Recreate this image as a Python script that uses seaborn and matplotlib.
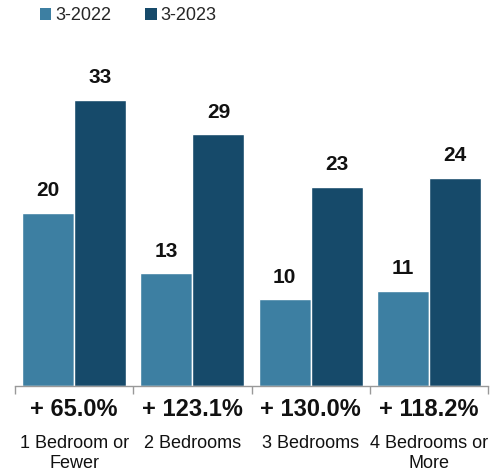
import matplotlib
matplotlib.use("Agg")
import matplotlib.pyplot as plt
from matplotlib.patches import Patch
from matplotlib.ticker import FixedLocator, NullFormatter
import seaborn as sns
import pandas as pd

categories = ["1 Bedroom or\nFewer", "2 Bedrooms", "3 Bedrooms", "4 Bedrooms or\nMore"]
series = ["3-2022", "3-2023"]
values_2022 = [20, 13, 10, 11]
values_2023 = [33, 29, 23, 24]
colors = ["#3d7fa2", "#164a6a"]

df = pd.DataFrame({
    "category": categories * 2,
    "period": [series[0]] * 4 + [series[1]] * 4,
    "value": values_2022 + values_2023,
})

sns.set_theme(style="white")
plt.rcParams["font.family"] = ["Liberation Sans", "DejaVu Sans"]

fig = plt.figure(figsize=(4.91, 4.75), dpi=100)
ax = fig.add_axes([0.0305, 0.187, 0.9635, 0.731])

sns.barplot(data=df, x="category", y="value", hue="period", order=categories,
            hue_order=series, palette=colors, width=0.88, saturation=1,
            edgecolor="white", linewidth=1, legend=False, ax=ax)

for container in ax.containers:
    ax.bar_label(container, labels=[f"{v:g}" for v in container.datavalues],
                 padding=9, fontsize=15, fontweight="bold", color="#111111")

ax.set_xlim(-0.5, 3.5)
ax.set_ylim(0, 40)
ax.set_xlabel("")
ax.set_ylabel("")
ax.set_yticks([])
for side in ["top", "right", "left"]:
    ax.spines[side].set_visible(False)
ax.spines["bottom"].set_color("#999999")
ax.spines["bottom"].set_linewidth(1)

ax.xaxis.set_minor_locator(FixedLocator([-0.5, 0.5, 1.5, 2.5, 3.5]))
ax.xaxis.set_minor_formatter(NullFormatter())
ax.tick_params(axis="x", which="minor", bottom=True, length=6, width=1, color="#999999")
ax.tick_params(axis="x", which="major", bottom=False, length=0, pad=35.5,
               labelsize=13, labelcolor="#111111")
for lbl in ax.get_xticklabels():
    lbl.set_linespacing(1.2)

# Percentage change between the two periods under each group
for i, (a, b) in enumerate(zip(values_2022, values_2023)):
    pct = (b - a) / a * 100
    ax.text(i, -0.033, f"+ {pct:.1f}%", transform=ax.get_xaxis_transform(),
            ha="center", va="top", fontsize=17, fontweight="bold", color="#111111")

handles = [Patch(facecolor=c, edgecolor="none") for c in colors]
fig.legend(handles, series, loc="upper left", bbox_to_anchor=(0.066, 1.0), ncol=2,
           frameon=False, fontsize=13, handlelength=0.65, handleheight=0.65,
           handletextpad=0.2, columnspacing=1.9, borderaxespad=0)

fig.savefig("out.png", dpi=100)
